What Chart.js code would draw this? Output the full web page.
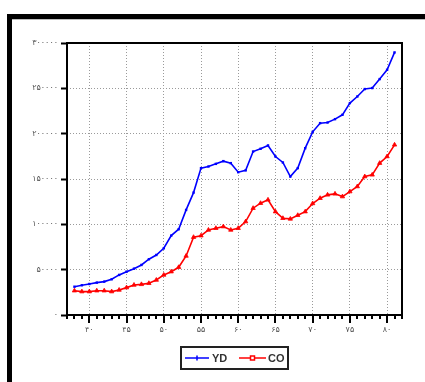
<!DOCTYPE html>
<html>
<head>
<meta charset="utf-8">
<script src="https://cdn.jsdelivr.net/npm/chart.js@4/dist/chart.umd.min.js"></script>
<style>
  html, body { margin: 0; padding: 0; background: #fff; }
  #wrap { position: relative; width: 425px; height: 382px; overflow: hidden; }
  #frame { position: absolute; left: 7px; top: 14px; width: 420px; height: 370px;
           border-top: 5px solid #000; border-left: 5px solid #000; box-sizing: border-box; }
  #frame::after { content: ''; position: absolute; left: 0; right: 0; top: 0; height: 1px; background: #bbb; }
  canvas { position: absolute; left: 0; top: 0; }
</style>
</head>
<body>
<div id="wrap">
  <div id="frame"></div>
  <canvas id="c" width="425" height="382"></canvas>
</div>
<script>
// Years (Iranian calendar, 13xx) and the two annual series
const years = [38,39,40,41,42,43,44,45,46,47,48,49,50,51,52,53,54,55,56,57,58,59,
               60,61,62,63,64,65,66,67,68,69,70,71,72,73,74,75,76,77,78,79,80,81];
const yd = [31200,32800,34200,35700,36800,39400,44200,47800,51100,55200,61500,66200,
            73600,87600,94600,115900,135000,162000,163800,166700,169700,167500,
            157500,159500,180300,183300,187000,174800,168200,152700,162000,184000,
            202000,211600,212300,216000,220800,233700,241000,249200,250300,260200,
            270500,289600];
const co = [26800,25800,25800,26800,26800,25800,27600,30200,33100,33800,35000,38600,
            44200,47800,52600,65100,85800,87500,93800,95700,97500,93800,95700,103000,
            117800,123300,127000,114000,106700,106000,110000,114000,123000,128800,
            132500,133600,130600,136100,141700,152700,154600,167500,174800,187700];
const xMajorTicks = [40,45,50,55,60,65,70,75,80];
const yTicks = [0,50000,100000,150000,200000,250000,300000];
const seriesNames = ['YD', 'CO'];

const faDigits = '۰۱۲۳۴۵۶۷۸۹';
const toFa = n => String(n).replace(/\d/g, d => faDigits[+d]);

const boxAndTicks = {
  id: 'boxAndTicks',
  afterDatasetsDraw(chart) {
    const { ctx, chartArea: a, scales: { x } } = chart;
    ctx.save();
    // plot frame
    ctx.strokeStyle = '#000';
    ctx.lineWidth = 2;
    ctx.strokeRect(a.left, a.top, a.right - a.left, a.bottom - a.top);
    // yearly tick marks below the x axis, longer at labelled years
    for (let yr = Math.ceil(x.min); yr <= x.max; yr++) {
      const px = Math.round(x.getPixelForValue(yr));
      const len = xMajorTicks.includes(yr) ? 8 : 4;
      ctx.beginPath();
      ctx.moveTo(px, a.bottom);
      ctx.lineTo(px, a.bottom + len);
      ctx.stroke();
    }
    ctx.restore();
  },
  afterDraw(chart) {
    const { ctx } = chart;
    const bx = 181, by = 347, bw = 107, bh = 22;
    ctx.save();
    ctx.fillStyle = '#fff';
    ctx.fillRect(bx, by, bw, bh);
    ctx.beginPath();
    ctx.rect(bx, by, bw, bh);
    ctx.clip();
    const cy = by + bh / 2;
    const items = [
      { x0: 185, x1: 209, text: 212, ds: chart.data.datasets[0], mark: 'tick' },
      { x0: 239, x1: 266, text: 268, ds: chart.data.datasets[1], mark: 'square' }
    ];
    ctx.font = 'bold 11px "Liberation Sans", Arial, sans-serif';
    ctx.textBaseline = 'middle';
    items.forEach(it => {
      ctx.strokeStyle = it.ds.borderColor;
      ctx.lineWidth = 1.5;
      ctx.beginPath();
      ctx.moveTo(it.x0, cy);
      ctx.lineTo(it.x1, cy);
      ctx.stroke();
      const mx = (it.x0 + it.x1) / 2;
      if (it.mark === 'tick') {
        ctx.beginPath();
        ctx.moveTo(mx, cy - 2.5);
        ctx.lineTo(mx, cy + 2.5);
        ctx.stroke();
      } else {
        ctx.fillStyle = '#fff';
        ctx.fillRect(mx - 2, cy - 2, 4, 4);
        ctx.strokeRect(mx - 2, cy - 2, 4, 4);
      }
      ctx.fillStyle = '#333';
      ctx.fillText(it.ds.label, it.text, cy + 0.5);
    });
    ctx.restore();
    ctx.save();
    ctx.strokeStyle = '#222';
    ctx.lineWidth = 2;
    ctx.strokeRect(bx, by, bw, bh);
    ctx.restore();
  }
};

new Chart(document.getElementById('c'), {
  type: 'line',
  data: {
    datasets: [
      {
        label: seriesNames[0],
        data: years.map((yr, i) => ({ x: yr, y: yd[i] })),
        borderColor: '#0000ff',
        backgroundColor: '#0000ff',
        borderWidth: 1.6,
        pointStyle: 'rect',
        pointRadius: 1.7,
        pointBorderWidth: 0,
        tension: 0
      },
      {
        label: seriesNames[1],
        data: years.map((yr, i) => ({ x: yr, y: co[i] })),
        borderColor: '#ff0000',
        backgroundColor: '#ff0000',
        borderWidth: 1.6,
        pointStyle: 'triangle',
        pointRadius: 2.5,
        pointBorderWidth: 0.8,
        tension: 0
      }
    ]
  },
  options: {
    responsive: false,
    animation: false,
    devicePixelRatio: 1,
    layout: { padding: { left: 0, top: 43, right: 23, bottom: 0 } },
    plugins: { legend: { display: false }, tooltip: { enabled: false } },
    scales: {
      x: {
        type: 'linear',
        min: 37,
        max: 82,
        afterFit: s => { s.height = 67; },
        afterBuildTicks: s => { s.ticks = xMajorTicks.map(v => ({ value: v })); },
        border: { display: false, dash: [1, 2] },
        grid: {
          drawTicks: false,
          color: '#9a9a9a',
          lineWidth: 1
        },
        ticks: {
          padding: 10,
          color: '#555',
          font: { family: '"DejaVu Sans", sans-serif', size: 8 },
          callback: v => toFa(v),
          maxRotation: 0,
          autoSkip: false
        }
      },
      y: {
        min: 0,
        max: 300000,
        afterFit: s => { s.width = 67; },
        afterBuildTicks: s => { s.ticks = yTicks.map(v => ({ value: v })); },
        border: { display: false, dash: [1, 2] },
        grid: {
          drawTicks: true,
          tickLength: 6,
          tickColor: '#000',
          tickWidth: 2,
          tickBorderDash: [],
          color: ctx => (ctx.tick && (ctx.tick.value === 0 || ctx.tick.value === 300000)) ? 'rgba(0,0,0,0)' : '#9a9a9a',
          lineWidth: 1
        },
        ticks: {
          padding: 3,
          color: '#555',
          font: { family: '"DejaVu Sans", sans-serif', size: 8 },
          callback: v => toFa(v)
        }
      }
    }
  },
  plugins: [boxAndTicks]
});
</script>
</body>
</html>
